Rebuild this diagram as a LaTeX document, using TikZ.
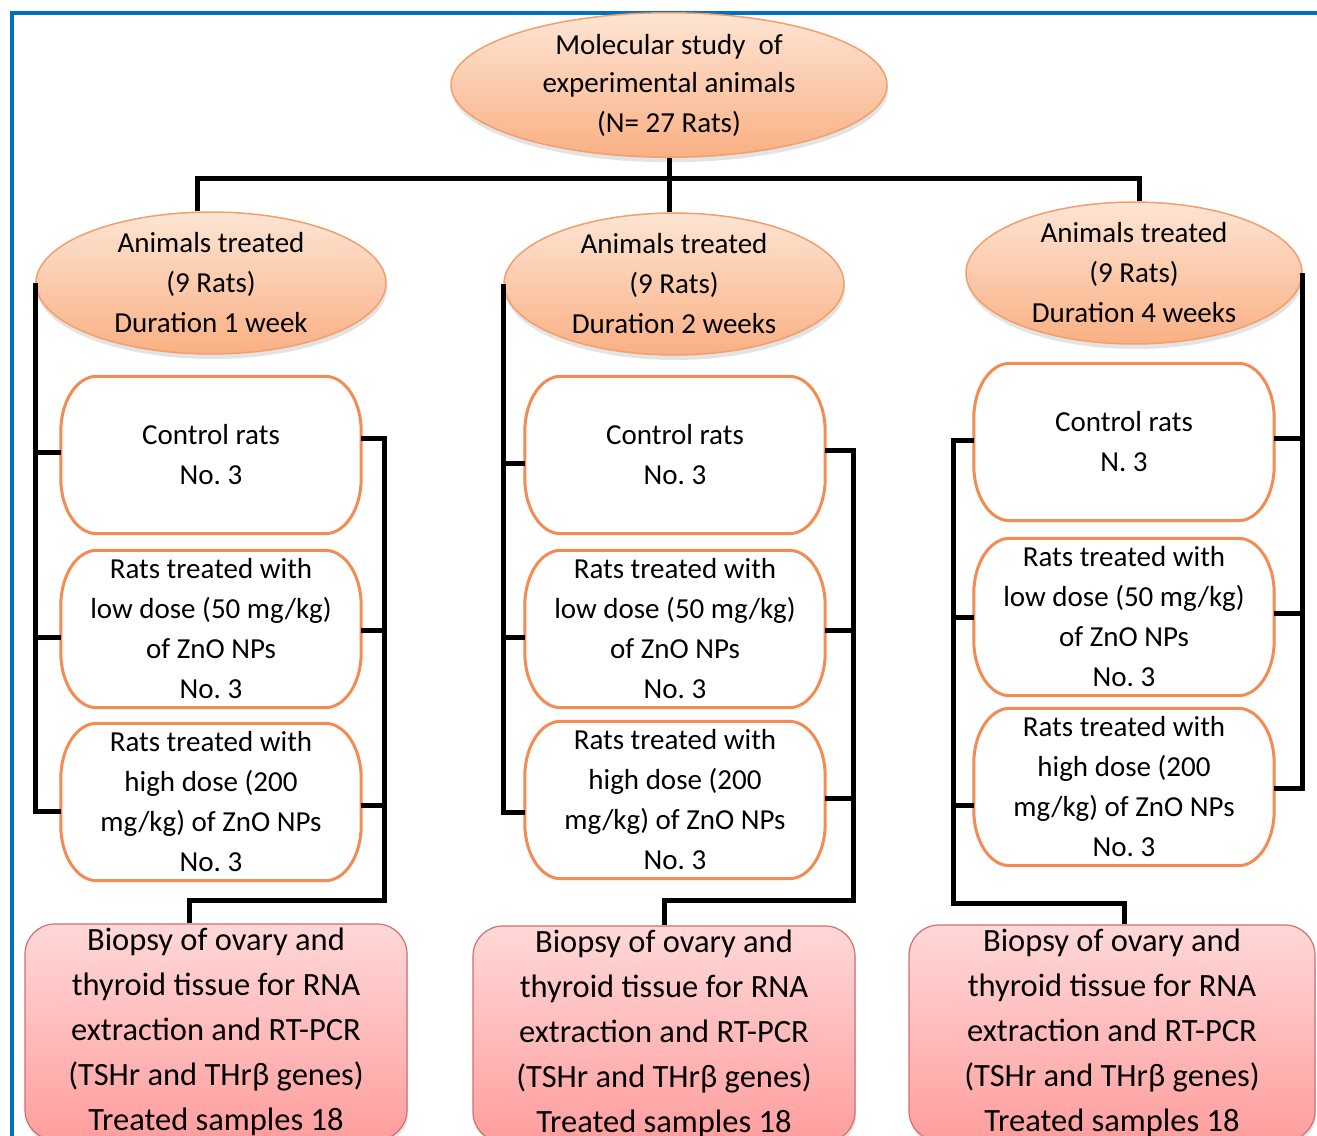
\documentclass[tikz,border=0pt]{standalone}
\usepackage{fontspec}
\setmainfont{Carlito}
\usetikzlibrary{shapes.geometric,shadows}
\frenchspacing
\definecolor{frameblue}{RGB}{0,112,192}
\definecolor{elltop}{RGB}{253,229,212}
\definecolor{ellbot}{RGB}{250,176,132}
\definecolor{elldraw}{RGB}{244,158,108}
\definecolor{pillor}{RGB}{243,140,82}
\definecolor{pinktop}{RGB}{255,216,216}
\definecolor{pinkbot}{RGB}{255,158,158}
\definecolor{pinkdraw}{RGB}{205,112,112}
\newcommand\pillbox[1]{%
  \draw[pill] ([xshift=36pt]#1.north west) -- ([xshift=-36pt]#1.north east)
    arc[start angle=90,end angle=0,x radius=36pt,y radius=55pt]
    -- ([yshift=55pt]#1.south east)
    arc[start angle=0,end angle=-90,x radius=36pt,y radius=55pt]
    -- ([xshift=36pt]#1.south west)
    arc[start angle=270,end angle=180,x radius=36pt,y radius=55pt]
    -- ([yshift=-55pt]#1.north west)
    arc[start angle=180,end angle=90,x radius=36pt,y radius=55pt] -- cycle;}
\begin{document}
\begin{tikzpicture}[x=1pt,y=1pt,
  ell/.style={ellipse, draw=elldraw, line width=1.5pt, top color=elltop, bottom color=ellbot,
    inner sep=0pt, align=center, font=\fontsize{29}{40}\selectfont,
    drop shadow={opacity=0.22, shadow xshift=1pt, shadow yshift=-5pt}},
  boxtext/.style={rectangle, inner sep=0pt, minimum width=300pt, minimum height=157pt,
    align=center, font=\fontsize{29}{40}\selectfont},
  pill/.style={draw=pillor, line width=3pt, fill=white},
  pinkbox/.style={rectangle, rounded corners=30pt, draw=pinkdraw, line width=1.2pt,
    top color=pinktop, bottom color=pinkbot, inner sep=0pt, minimum height=216pt,
    align=center, font=\fontsize{32.5}{45}\selectfont,
    drop shadow={opacity=0.2, shadow xshift=1pt, shadow yshift=-4pt}},
  conn/.style={draw=black, line width=5pt}]
\useasboundingbox (0,0) rectangle (1317,-1135);
\clip (0,0) rectangle (1317,-1135);
\fill[white] (0,0) rectangle (1317,-1135);
% frame
\draw[frameblue, line width=3.5pt] (12,-1140) -- (12,-13) -- (1325,-13);

% ellipses
\node[ell, minimum width=436pt, minimum height=130pt] (top) at (669,-85)
  {\raisebox{-2pt}{Molecular study~ of}\\experimental animals\\(N= 27 Rats)};
\node[ell, minimum width=350pt, minimum height=140pt] (e1) at (211,-283)
  {Animals treated\\(9 Rats)\\Duration 1 week};
\node[ell, minimum width=340pt, minimum height=138pt] (e2) at (674,-284)
  {Animals treated\\(9 Rats)\\Duration 2 weeks};
\node[ell, minimum width=336pt, minimum height=136pt] (e3) at (1134,-273)
  {Animals treated\\(9 Rats)\\Duration 4 weeks};

% group boxes (outlines)
\node[boxtext] (c1) at (211,-455) {};
\node[boxtext] (l1) at (211,-629) {};
\node[boxtext] (h1) at (211,-802) {};
\node[boxtext] (c2) at (675,-455) {};
\node[boxtext] (l2) at (675,-629) {};
\node[boxtext] (h2) at (675,-800) {};
\node[boxtext] (c3) at (1124,-442) {};
\node[boxtext] (l3) at (1124,-617) {};
\node[boxtext] (h3) at (1124,-787) {};
\foreach \b in {c1,l1,h1,c2,l2,h2,c3,l3,h3} {\pillbox{\b}}

% texts of group boxes
\node[boxtext] at (c1) {Control rats\\No. 3};
\node[boxtext] at (l1) {Rats treated with\\low dose (50 mg/kg)\\of ZnO NPs\\No. 3};
\node[boxtext] at (h1) {Rats treated with\\high dose (200\\mg/kg) of ZnO NPs\\No. 3};
\node[boxtext] at (c2) {Control rats\\No. 3};
\node[boxtext] at (l2) {Rats treated with\\low dose (50 mg/kg)\\of ZnO NPs\\No. 3};
\node[boxtext] at (h2) {Rats treated with\\high dose (200\\mg/kg) of ZnO NPs\\No. 3};
\node[boxtext] at (c3) {Control rats\\N. 3};
\node[boxtext] at (l3) {Rats treated with\\low dose (50 mg/kg)\\of ZnO NPs\\No. 3};
\node[boxtext] at (h3) {Rats treated with\\high dose (200\\mg/kg) of ZnO NPs\\No. 3};

% biopsy boxes
\node[pinkbox, minimum width=382pt] (b1) at (216,-1032)
  {Biopsy of ovary and\\thyroid tissue for RNA\\extraction and RT-PCR\\(TSHr and THrβ genes)\\Treated samples 18};
\node[pinkbox, minimum width=382pt] (b2) at (664,-1034)
  {Biopsy of ovary and\\thyroid tissue for RNA\\extraction and RT-PCR\\(TSHr and THrβ genes)\\Treated samples 18};
\node[pinkbox, minimum width=406pt] (b3) at (1112,-1033)
  {Biopsy of ovary and\\thyroid tissue for RNA\\extraction and RT-PCR\\(TSHr and THrβ genes)\\Treated samples 18};

% connectors: top level
\coordinate (bar) at (669,-178);
\draw[conn] (top.south) -- (top.south |- e2.north);
\draw[conn] ([xshift=-14pt]e1.north) |- (bar) -| ([xshift=5pt]e3.north);

% column 1
\draw[conn] (e1.west) |- ([yshift=-9pt]h1.west);
\draw[conn] ([yshift=3pt]c1.west) -- ([yshift=3pt]c1.west -| e1.west);
\draw[conn] ([yshift=-8pt]l1.west) -- ([yshift=-8pt]l1.west -| e1.west);
\coordinate (r1) at (384,-900);
\draw[conn] ([yshift=17pt]c1.east) -| (r1) -| ([xshift=-27pt]b1.north);
\draw[conn] ([yshift=-1pt]l1.east) -- ([yshift=-1pt]l1.east -| r1);
\draw[conn] ([yshift=-3pt]h1.east) -- ([yshift=-3pt]h1.east -| r1);

% column 2
\draw[conn] (e2.west) |- ([yshift=-12pt]h2.west);
\draw[conn] ([yshift=-8pt]c2.west) -- ([yshift=-8pt]c2.west -| e2.west);
\draw[conn] ([yshift=-8pt]l2.west) -- ([yshift=-8pt]l2.west -| e2.west);
\coordinate (r2) at (853,-900);
\draw[conn] ([yshift=5pt]c2.east) -| (r2) -| (b2.north);
\draw[conn] ([yshift=-1pt]l2.east) -- ([yshift=-1pt]l2.east -| r2);
\draw[conn] ([yshift=2pt]h2.east) -- ([yshift=2pt]h2.east -| r2);

% column 3
\draw[conn] (e3.east) |- ([yshift=-1pt]h3.east);
\draw[conn] ([yshift=4pt]c3.east) -- ([yshift=4pt]c3.east -| e3.east);
\draw[conn] ([yshift=4pt]l3.east) -- ([yshift=4pt]l3.east -| e3.east);
\coordinate (r3) at (953,-903);
\draw[conn] ([yshift=2pt]c3.west) -| (r3) -| ([xshift=12pt]b3.north);
\draw[conn] (l3.west) -- (l3.west -| r3);
\draw[conn] ([yshift=-18pt]h3.west) -- ([yshift=-18pt]h3.west -| r3);
\end{tikzpicture}
\end{document}
